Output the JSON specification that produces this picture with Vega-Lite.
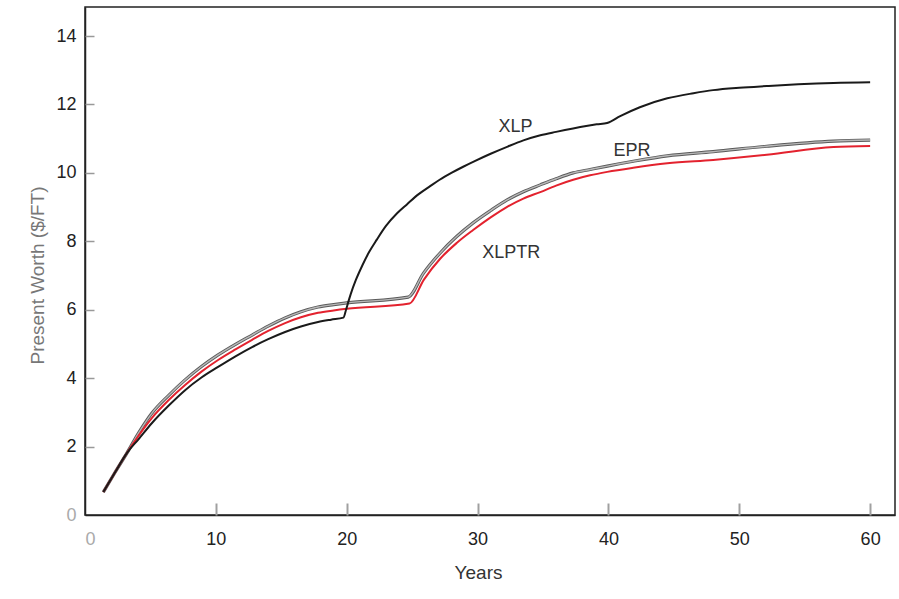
{
  "$schema": "https://vega.github.io/schema/vega-lite/v6.json",
  "width": 810,
  "height": 508,
  "autosize": {"type": "none"},
  "padding": {"left": 85, "top": 7, "right": 4, "bottom": 84},
  "background": "white",
  "config": {
    "view": {"stroke": "#222222", "strokeWidth": 1.5},
    "font": "Liberation Sans",
    "axis": {
      "grid": false,
      "domainColor": "#222222",
      "domainWidth": 1.5,
      "tickColor": "#999999",
      "tickWidth": 1.5,
      "labelFont": "Liberation Sans",
      "labelFontSize": 18,
      "titleFont": "Liberation Sans",
      "titleFontSize": 19,
      "titleFontWeight": "normal"
    }
  },
  "datasets": {
    "curves": [
      {"series": "XLP", "year": 1.4, "value": 0.67},
      {"series": "XLP", "year": 2.3, "value": 1.25},
      {"series": "XLP", "year": 3.2, "value": 1.81},
      {"series": "XLP", "year": 4.1, "value": 2.22},
      {"series": "XLP", "year": 5.12, "value": 2.69},
      {"series": "XLP", "year": 6.4, "value": 3.2},
      {"series": "XLP", "year": 7.65, "value": 3.65},
      {"series": "XLP", "year": 8.9, "value": 4.02},
      {"series": "XLP", "year": 10.17, "value": 4.33},
      {"series": "XLP", "year": 11.5, "value": 4.64},
      {"series": "XLP", "year": 12.77, "value": 4.91},
      {"series": "XLP", "year": 14.0, "value": 5.14},
      {"series": "XLP", "year": 15.29, "value": 5.35},
      {"series": "XLP", "year": 16.5, "value": 5.51},
      {"series": "XLP", "year": 17.81, "value": 5.64},
      {"series": "XLP", "year": 18.8, "value": 5.71},
      {"series": "XLP", "year": 19.75, "value": 5.77},
      {"series": "XLP", "year": 19.95, "value": 6.0},
      {"series": "XLP", "year": 20.1, "value": 6.2},
      {"series": "XLP", "year": 20.3, "value": 6.45},
      {"series": "XLP", "year": 20.7, "value": 6.87},
      {"series": "XLP", "year": 21.2, "value": 7.3},
      {"series": "XLP", "year": 21.7, "value": 7.68},
      {"series": "XLP", "year": 22.3, "value": 8.05},
      {"series": "XLP", "year": 23.0, "value": 8.45},
      {"series": "XLP", "year": 23.85, "value": 8.82},
      {"series": "XLP", "year": 24.6, "value": 9.08},
      {"series": "XLP", "year": 25.5, "value": 9.38},
      {"series": "XLP", "year": 26.4, "value": 9.62},
      {"series": "XLP", "year": 27.1, "value": 9.8},
      {"series": "XLP", "year": 28.0, "value": 10.0},
      {"series": "XLP", "year": 28.9, "value": 10.18},
      {"series": "XLP", "year": 29.7, "value": 10.33},
      {"series": "XLP", "year": 31.0, "value": 10.56},
      {"series": "XLP", "year": 32.3, "value": 10.77},
      {"series": "XLP", "year": 33.5, "value": 10.95},
      {"series": "XLP", "year": 34.8, "value": 11.1},
      {"series": "XLP", "year": 36.0, "value": 11.2},
      {"series": "XLP", "year": 37.3, "value": 11.3},
      {"series": "XLP", "year": 38.3, "value": 11.37},
      {"series": "XLP", "year": 39.1, "value": 11.42},
      {"series": "XLP", "year": 39.9, "value": 11.46},
      {"series": "XLP", "year": 40.9, "value": 11.66},
      {"series": "XLP", "year": 42.4, "value": 11.92},
      {"series": "XLP", "year": 44.5, "value": 12.18},
      {"series": "XLP", "year": 46.5, "value": 12.33},
      {"series": "XLP", "year": 48.0, "value": 12.42},
      {"series": "XLP", "year": 50.0, "value": 12.49},
      {"series": "XLP", "year": 52.1, "value": 12.54},
      {"series": "XLP", "year": 54.5, "value": 12.59},
      {"series": "XLP", "year": 57.2, "value": 12.63},
      {"series": "XLP", "year": 60.0, "value": 12.65},

      {"series": "EPR", "year": 1.4, "value": 0.67},
      {"series": "EPR", "year": 2.3, "value": 1.25},
      {"series": "EPR", "year": 3.2, "value": 1.81},
      {"series": "EPR", "year": 4.1, "value": 2.4},
      {"series": "EPR", "year": 5.12, "value": 2.98},
      {"series": "EPR", "year": 6.4, "value": 3.5},
      {"series": "EPR", "year": 7.65, "value": 3.95},
      {"series": "EPR", "year": 8.9, "value": 4.34},
      {"series": "EPR", "year": 10.17, "value": 4.68},
      {"series": "EPR", "year": 11.5, "value": 4.99},
      {"series": "EPR", "year": 12.77, "value": 5.26},
      {"series": "EPR", "year": 14.0, "value": 5.52},
      {"series": "EPR", "year": 15.29, "value": 5.76},
      {"series": "EPR", "year": 16.5, "value": 5.94},
      {"series": "EPR", "year": 17.81, "value": 6.08},
      {"series": "EPR", "year": 19.0, "value": 6.15},
      {"series": "EPR", "year": 20.0, "value": 6.2},
      {"series": "EPR", "year": 24.7, "value": 6.37},
      {"series": "EPR", "year": 25.87, "value": 7.07},
      {"series": "EPR", "year": 27.14, "value": 7.66},
      {"series": "EPR", "year": 28.4, "value": 8.14},
      {"series": "EPR", "year": 29.66, "value": 8.54},
      {"series": "EPR", "year": 31.0, "value": 8.9},
      {"series": "EPR", "year": 32.26, "value": 9.21},
      {"series": "EPR", "year": 33.5, "value": 9.45},
      {"series": "EPR", "year": 34.79, "value": 9.65},
      {"series": "EPR", "year": 36.0, "value": 9.83},
      {"series": "EPR", "year": 37.31, "value": 10.0},
      {"series": "EPR", "year": 38.6, "value": 10.1},
      {"series": "EPR", "year": 39.91, "value": 10.2},
      {"series": "EPR", "year": 41.9, "value": 10.34},
      {"series": "EPR", "year": 44.5, "value": 10.5},
      {"series": "EPR", "year": 48.0, "value": 10.62},
      {"series": "EPR", "year": 52.1, "value": 10.78},
      {"series": "EPR", "year": 57.2, "value": 10.93},
      {"series": "EPR", "year": 60.0, "value": 10.96},

      {"series": "XLPTR", "year": 1.4, "value": 0.67},
      {"series": "XLPTR", "year": 2.3, "value": 1.25},
      {"series": "XLPTR", "year": 3.2, "value": 1.81},
      {"series": "XLPTR", "year": 4.1, "value": 2.32},
      {"series": "XLPTR", "year": 5.12, "value": 2.84},
      {"series": "XLPTR", "year": 6.4, "value": 3.36},
      {"series": "XLPTR", "year": 7.65, "value": 3.8},
      {"series": "XLPTR", "year": 8.9, "value": 4.19},
      {"series": "XLPTR", "year": 10.17, "value": 4.53},
      {"series": "XLPTR", "year": 11.5, "value": 4.84},
      {"series": "XLPTR", "year": 12.77, "value": 5.12},
      {"series": "XLPTR", "year": 14.0, "value": 5.38},
      {"series": "XLPTR", "year": 15.29, "value": 5.61},
      {"series": "XLPTR", "year": 16.5, "value": 5.78},
      {"series": "XLPTR", "year": 17.81, "value": 5.91},
      {"series": "XLPTR", "year": 19.0, "value": 5.98},
      {"series": "XLPTR", "year": 20.0, "value": 6.03},
      {"series": "XLPTR", "year": 24.8, "value": 6.18},
      {"series": "XLPTR", "year": 25.9, "value": 6.88},
      {"series": "XLPTR", "year": 27.14, "value": 7.49},
      {"series": "XLPTR", "year": 28.4, "value": 7.95},
      {"series": "XLPTR", "year": 29.66, "value": 8.33},
      {"series": "XLPTR", "year": 31.0, "value": 8.7},
      {"series": "XLPTR", "year": 32.26, "value": 9.01},
      {"series": "XLPTR", "year": 33.5, "value": 9.25},
      {"series": "XLPTR", "year": 34.79, "value": 9.44},
      {"series": "XLPTR", "year": 36.0, "value": 9.63},
      {"series": "XLPTR", "year": 37.31, "value": 9.8},
      {"series": "XLPTR", "year": 38.6, "value": 9.93},
      {"series": "XLPTR", "year": 39.91, "value": 10.03},
      {"series": "XLPTR", "year": 41.9, "value": 10.15},
      {"series": "XLPTR", "year": 44.5, "value": 10.28},
      {"series": "XLPTR", "year": 48.0, "value": 10.38},
      {"series": "XLPTR", "year": 52.1, "value": 10.53},
      {"series": "XLPTR", "year": 57.2, "value": 10.76},
      {"series": "XLPTR", "year": 60.0, "value": 10.79}
    ],
    "labels": [
      {"label": "XLP", "year": 32.9, "value": 11.33},
      {"label": "EPR", "year": 41.8, "value": 10.65},
      {"label": "XLPTR", "year": 32.57, "value": 7.65}
    ]
  },
  "resolve": {"axis": {"x": "independent", "y": "independent"}},
  "layer": [
    {
      "data": {"name": "curves"},
      "encoding": {
        "x": {
          "field": "year",
          "type": "quantitative",
          "scale": {"domain": [0, 61.9], "nice": false, "zero": false},
          "axis": {
            "title": "Years",
            "values": [0, 10, 20, 30, 40, 50, 60],
            "ticks": false,
            "tickSize": 0,
            "labelPadding": 15,
            "labelColor": {"condition": {"test": "datum.value === 0", "value": "#aaaaaa"}, "value": "#222222"},
            "titleColor": "#333333",
            "titleX": 393,
            "titleY": 57,
            "titleBaseline": "middle",
            "titleAnchor": "start",
            "titleAlign": "center"
          }
        },
        "y": {
          "field": "value",
          "type": "quantitative",
          "scale": {"domain": [0, 14.85], "nice": false, "zero": false},
          "axis": {
            "title": "Present Worth ($/FT)",
            "values": [0, 2, 4, 6, 8, 10, 12, 14],
            "ticks": false,
            "tickSize": 0,
            "labelPadding": 9,
            "labelColor": {"condition": {"test": "datum.value === 0", "value": "#aaaaaa"}, "value": "#222222"},
            "titleColor": "#777777",
            "titleX": -48,
            "titleY": 268,
            "titleBaseline": "middle",
            "titleAlign": "center",
            "titleAngle": 270
          }
        }
      },
      "layer": [
        {
          "transform": [{"filter": "datum.series === 'EPR'"}],
          "mark": {"type": "line", "color": "#5a5a5a", "strokeWidth": 3.2, "interpolate": "monotone"},
          "encoding": {"order": {"field": "year"}}
        },
        {
          "transform": [{"filter": "datum.series === 'EPR'"}],
          "mark": {"type": "line", "color": "#b8b8b8", "strokeWidth": 1.4, "interpolate": "monotone"},
          "encoding": {"order": {"field": "year"}}
        },
        {
          "transform": [{"filter": "datum.series === 'XLPTR'"}],
          "mark": {"type": "line", "color": "#e3222e", "strokeWidth": 2, "interpolate": "monotone"},
          "encoding": {"order": {"field": "year"}}
        },
        {
          "transform": [{"filter": "datum.series === 'XLP'"}],
          "mark": {"type": "line", "color": "#1a1a1a", "strokeWidth": 2, "interpolate": "monotone"},
          "encoding": {"order": {"field": "year"}}
        }
      ]
    },
    {
      "data": {"name": "labels"},
      "mark": {"type": "text", "font": "Liberation Sans", "fontSize": 18, "color": "#333333", "align": "center", "baseline": "middle"},
      "encoding": {
        "x": {
          "field": "year",
          "type": "quantitative",
          "scale": {"domain": [0, 61.9], "nice": false, "zero": false},
          "axis": {
            "orient": "top",
            "offset": -508,
            "values": [10, 20, 30, 40, 50, 60],
            "labels": false,
            "domain": false,
            "title": null,
            "tickSize": 12,
            "tickWidth": 2,
            "tickColor": "#a0a0a0"
          }
        },
        "y": {
          "field": "value",
          "type": "quantitative",
          "scale": {"domain": [0, 14.85], "nice": false, "zero": false},
          "axis": {
            "orient": "right",
            "offset": -810,
            "values": [2, 4, 6, 8, 10, 12, 14],
            "labels": false,
            "domain": false,
            "title": null,
            "tickSize": 9,
            "tickWidth": 1.5,
            "tickColor": "#999999"
          }
        },
        "text": {"field": "label"}
      }
    }
  ]
}
